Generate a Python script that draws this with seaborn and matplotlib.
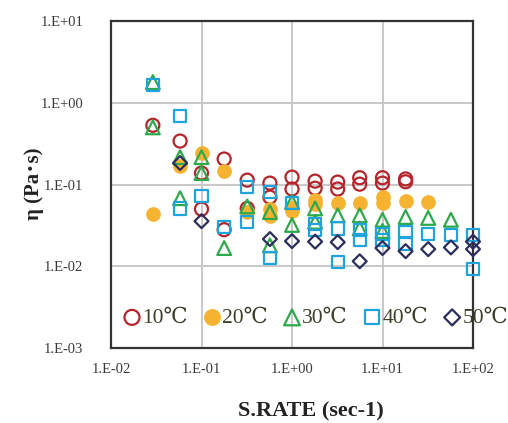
import numpy as np
import pandas as pd
import matplotlib
matplotlib.use("Agg")
import matplotlib.pyplot as plt
import matplotlib.ticker as mticker
import seaborn as sns

# ---- data ----
series_names = ["10℃", "20℃", "30℃", "40℃", "50℃"]

x_10 = [0.029, 0.058, 0.1, 0.1, 0.178, 0.178, 0.32, 0.32, 0.57, 0.57, 1.0, 1.0,
        1.8, 1.8, 3.2, 3.2, 5.6, 5.6, 10, 10, 18, 18]
y_10 = [0.53, 0.34, 0.138, 0.050, 0.205, 0.028, 0.113, 0.051, 0.104, 0.070, 0.123, 0.088,
        0.110, 0.090, 0.107, 0.088, 0.121, 0.101, 0.121, 0.104, 0.117, 0.108]

x_20 = [0.029, 0.058, 0.1, 0.178, 0.32, 0.57, 0.57, 1.0, 1.0, 1.8, 1.8, 3.2, 5.6,
        10, 10, 18, 32]
y_20 = [0.0435, 0.168, 0.242, 0.146, 0.046, 0.050, 0.041, 0.052, 0.047, 0.064, 0.058,
        0.059, 0.059, 0.070, 0.060, 0.063, 0.061]

x_30 = [0.029, 0.029, 0.058, 0.058, 0.1, 0.1, 0.178, 0.32, 0.57, 0.57, 1.0, 1.0,
        1.8, 1.8, 3.2, 5.6, 5.6, 10, 10, 18, 32, 57]
y_30 = [1.79, 0.50, 0.216, 0.068, 0.216, 0.138, 0.0167, 0.054, 0.046, 0.018, 0.061, 0.032,
        0.051, 0.035, 0.042, 0.042, 0.029, 0.037, 0.027, 0.040, 0.039, 0.037]

x_40 = [0.029, 0.058, 0.058, 0.1, 0.178, 0.32, 0.32, 0.57, 0.57, 1.0, 1.8, 1.8,
        3.2, 3.2, 5.6, 5.6, 10, 10, 18, 18, 32, 57, 100, 100]
y_40 = [1.65, 0.69, 0.051, 0.072, 0.030, 0.093, 0.035, 0.081, 0.0126, 0.059, 0.033, 0.028,
        0.029, 0.0112, 0.028, 0.021, 0.025, 0.021, 0.026, 0.019, 0.025, 0.024, 0.024, 0.0092]

x_50 = [0.058, 0.1, 0.57, 1.0, 1.8, 3.2, 5.6, 10, 18, 32, 57, 100, 100]
y_50 = [0.183, 0.0356, 0.0215, 0.0203, 0.020, 0.0197, 0.0115, 0.0167, 0.0153, 0.0162,
        0.017, 0.020, 0.0162]

x_ticks = [0.01, 0.1, 1, 10, 100]
y_ticks = [0.001, 0.01, 0.1, 1, 10]

# ---- styling ----
colors = ["#B3252B", "#F6B332", "#2FA84B", "#1EA3DC", "#2B2D5C"]
markers = ["o", "o", "^", "s", "D"]
filled = [False, True, False, False, False]
msizes = [88, 112, 98, 78, 50]

sns.set_theme(style="white")
serif = ["Liberation Serif", "DejaVu Serif", "Noto Sans CJK JP"]
plt.rcParams["font.family"] = serif

fig = plt.figure(figsize=(5.08, 4.23), dpi=100)
ax = fig.add_axes([111 / 508, 1 - 348 / 423, (473 - 111) / 508, (348 - 21) / 423])

xs = [x_10, x_20, x_30, x_40, x_50]
ys = [y_10, y_20, y_30, y_40, y_50]
for name, xv, yv, c, m, f, s in zip(series_names, xs, ys, colors, markers, filled, msizes):
    df = pd.DataFrame({"rate": xv, "eta": yv})
    if f:
        sns.scatterplot(data=df, x="rate", y="eta", ax=ax, marker=m, s=s,
                        color=c, edgecolor=c, linewidth=0, label=name, zorder=3,
                        clip_on=False)
    else:
        sns.scatterplot(data=df, x="rate", y="eta", ax=ax, marker=m, s=s,
                        facecolor="none", edgecolor=c, linewidth=1.6, label=name, zorder=3,
                        clip_on=False)

ax.set_xscale("log")
ax.set_yscale("log")
ax.set_xlim(0.01, 100)
ax.set_ylim(0.001, 10)
ax.set_xticks(x_ticks)
ax.set_yticks(y_ticks)
ax.xaxis.set_minor_locator(mticker.NullLocator())
ax.yaxis.set_minor_locator(mticker.NullLocator())

def fmt(v, pos):
    e = int(round(np.log10(v)))
    return f"1.E{e:+03d}"

ax.xaxis.set_major_formatter(mticker.FuncFormatter(fmt))
ax.yaxis.set_major_formatter(mticker.FuncFormatter(fmt))
ax.tick_params(axis="both", length=0, labelsize=10.5, labelcolor="#3a3a3a")
ax.tick_params(axis="x", pad=11)
ax.tick_params(axis="y", pad=20)
ax.grid(True, which="major", color="#c8c8c8", linewidth=1.4)
ax.set_axisbelow(True)
for sp in ax.spines.values():
    sp.set_color("#333333")
    sp.set_linewidth(1.6)

ax.set_xlabel("")
ax.set_ylabel("")
fig.text(311 / 508, 1 - 411 / 423, "S.RATE (sec-1)", ha="center", va="center",
         fontsize=16, fontweight="bold", color="#222222")
fig.text(34 / 508, 1 - 184 / 423, "η (Pa･s)", ha="center", va="center", rotation=90,
         fontsize=15, fontweight="bold", color="#222222")

leg = ax.legend(loc="center left",
                bbox_to_anchor=(14 / (473 - 111), (348 - 318) / (348 - 21)),
                ncol=5, frameon=False, fontsize=15.5, handlelength=0.65,
                handletextpad=0.15, columnspacing=0.8, borderaxespad=0.0,
                borderpad=0.0, markerscale=1.15)
for t in leg.get_texts():
    t.set_color("#3d3d2a")

fig.savefig("out.png", dpi=100)
